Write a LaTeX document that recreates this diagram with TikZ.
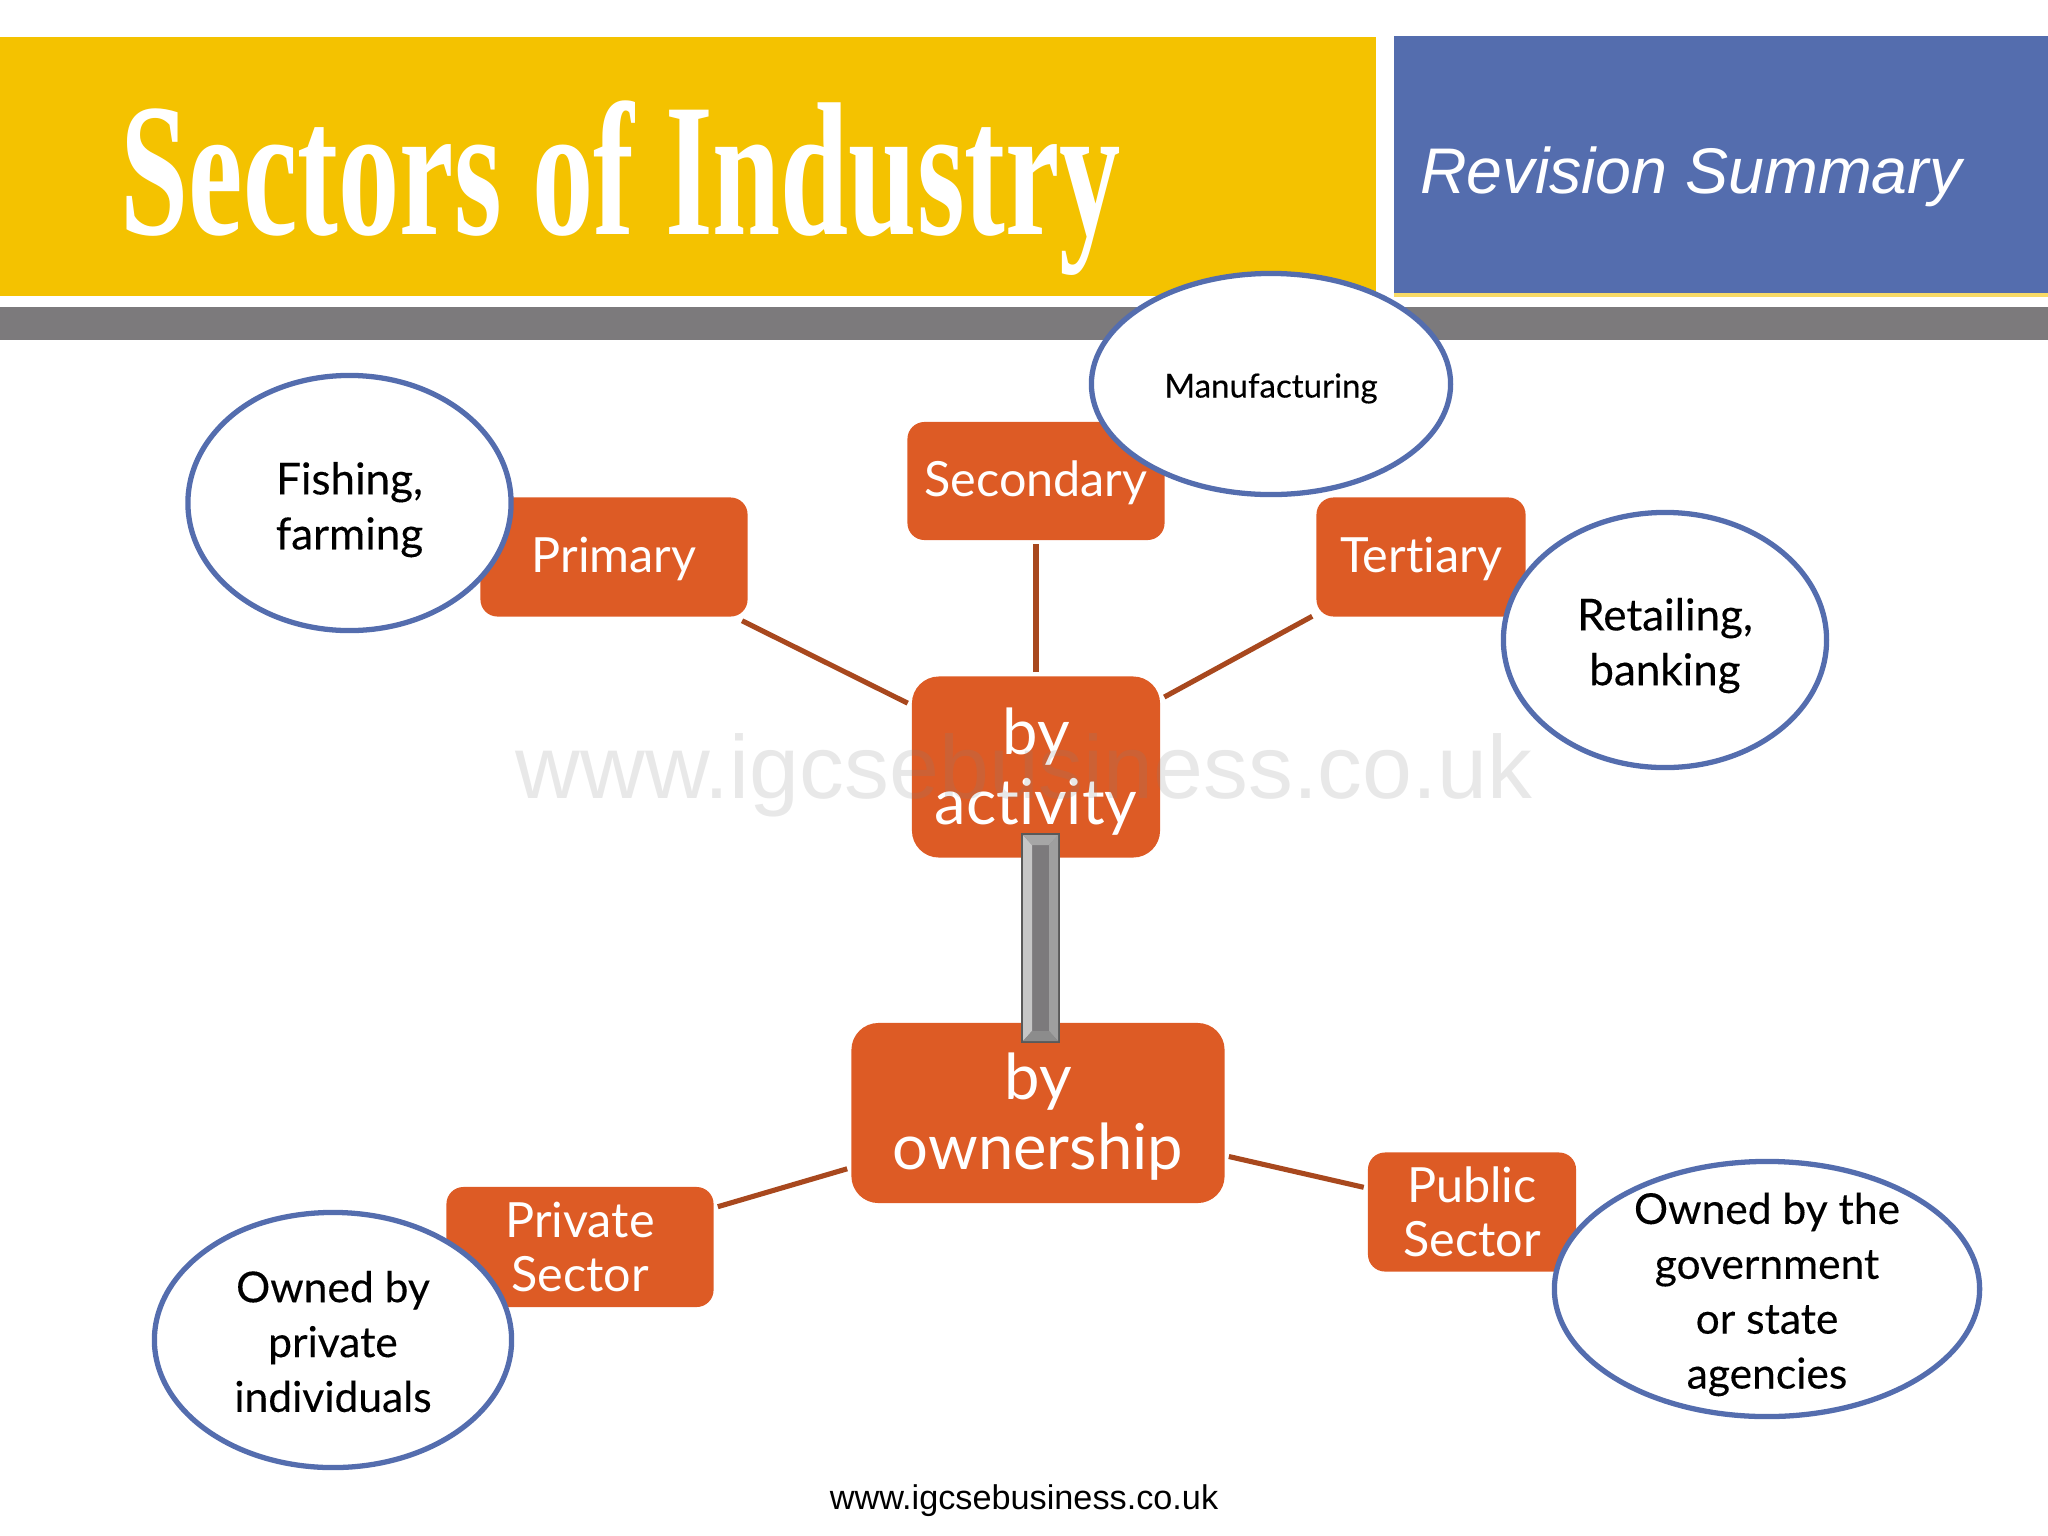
\documentclass[tikz,border=0pt]{standalone}
\usepackage{fontspec}
\setmainfont{Lato}[Ligatures=NoCommon]
\newfontfamily\arialfont{Liberation Sans}
\newfontfamily\titlefont{Liberation Serif}
\newfontfamily\bubblefont{Lato}[Ligatures=NoCommon,FakeBold=0.25]
\usepackage{xcolor}
\usetikzlibrary{calc}
\usetikzlibrary{shapes.geometric}
\definecolor{bannerYellow}{HTML}{F4C200}
\definecolor{bannerBlue}{HTML}{546DAE}
\definecolor{bannerGray}{HTML}{7C7A7C}
\definecolor{boxOrange}{HTML}{DD5B25}
\definecolor{linkBrown}{HTML}{A8481E}
\newcommand{\droptext}[1]{\rule{0pt}{#1}}
\tikzset{
  orangebox/.style={fill=boxOrange, text=white, rounded corners=.17cm, inner sep=0, outer sep=1.2pt, align=center, font=\fontsize{13.8}{15.2}\selectfont},
  bigbox/.style={orangebox, rounded corners=.27cm, font=\fontsize{18}{19.9}\selectfont},
  bubble/.style={ellipse, draw=bannerBlue, line width=1.5pt, fill=white, inner sep=0, align=center, font=\bubblefont\fontsize{12.5}{15.6}\selectfont},
  linkline/.style={draw=linkBrown, line width=1.45pt}
}

\begin{document}
\begin{tikzpicture} [x=.01cm,y=-.01cm]
\useasboundingbox (0,0) rectangle (2048,1536);

\fill[bannerYellow] (0,37) rectangle (1376,296);
\fill[bannerBlue] (1394,36) rectangle (2048,293);
\fill[bannerYellow!60] (1394,293) rectangle (2048,297);
\fill[bannerGray] (0,307) rectangle (2048,340);
\node[white, xscale=.645, font=\titlefont\bfseries\fontsize{54}{54}\selectfont] (title) at (621,188) {Sectors of Industry};
\node[white, font=\arialfont\itshape\fontsize{18.35}{20}\selectfont] (revision) at (1691,177) {Revision Summary};

\node[orangebox, minimum width=2.67cm, minimum height=1.19cm] (primary) at (614,557) {\droptext{11.4pt}Primary};
\node[orangebox, minimum width=2.57cm, minimum height=1.18cm] (secondary) at (1036,481) {\droptext{11.4pt}Secondary};
\node[orangebox, minimum width=2.09cm, minimum height=1.19cm] (tertiary) at (1421,557) {\droptext{11.4pt}Tertiary};
\node[orangebox, minimum width=2.67cm, minimum height=1.2cm] (private) at (580,1247) {Private\\Sector};
\node[orangebox, minimum width=2.08cm, minimum height=1.19cm] (public) at (1472,1212) {Public\\Sector};
\node[bigbox, minimum width=2.48cm, minimum height=1.81cm] (activity) at (1036,767) {\droptext{15.6pt}by\\activity};
\node[bigbox, minimum width=3.73cm, minimum height=1.8cm] (ownership) at (1038,1113) {\droptext{15.2pt}by\\ownership};

\foreach \b in {primary,secondary,tertiary} {
  \draw[linkline] (activity)--(\b);
}
\foreach \b in {private,public} {
  \draw[linkline] (ownership)--(\b);
}

\node[bubble, minimum width=3.23cm, minimum height=2.55cm] (fishing) at (349.5,503) {\droptext{13pt}Fishing,\\farming};
\node[bubble, minimum width=3.59cm, minimum height=2.21cm, font=\bubblefont\fontsize{9.4}{12}\selectfont] (making) at (1271,384) {\droptext{9.4pt}Manufacturing};
\node[bubble, minimum width=3.23cm, minimum height=2.55cm] (retailing) at (1665,640) {\droptext{12.4pt}Retailing,\\banking};
\node[bubble, minimum width=3.57cm, minimum height=2.55cm, font=\bubblefont\fontsize{12.1}{15.6}\selectfont] (ownedprivate) at (333,1340) {\droptext{9.8pt}Owned by\\private\\individuals};
\node[bubble, inner ysep=-.6cm, minimum width=4.25cm, minimum height=2.55cm, font=\bubblefont\fontsize{12.1}{15.6}\selectfont] (ownedstate) at (1767,1289) {\droptext{12pt}Owned by the\\government\\or state\\agencies};

% bevelled bar between the two main boxes
\draw[fill=bannerGray, draw=black!65, line width=.5pt] (1022,834) rectangle (1059,1042);
\fill[gray!45] (1023,835)--(1032,845)--(1032,1031)--(1023,1041)--cycle;
\fill[gray!75] (1058,835)--(1049,845)--(1049,1031)--(1058,1041)--cycle;
\fill[gray!70] (1023,835)--(1032,845)--(1049,845)--(1058,835)--cycle;
\fill[gray!90] (1023,1041)--(1032,1031)--(1049,1031)--(1058,1041)--cycle;

\node[text=gray, opacity=.18, font=\arialfont\fontsize{25.5}{27}\selectfont] (watermark) at (1024,775) {www.igcsebusiness.co.uk};
\node[font=\arialfont\fontsize{9.74}{11}\selectfont] (website) at (1024,1501) {www.igcsebusiness.co.uk};
\end{tikzpicture}
\end{document}
